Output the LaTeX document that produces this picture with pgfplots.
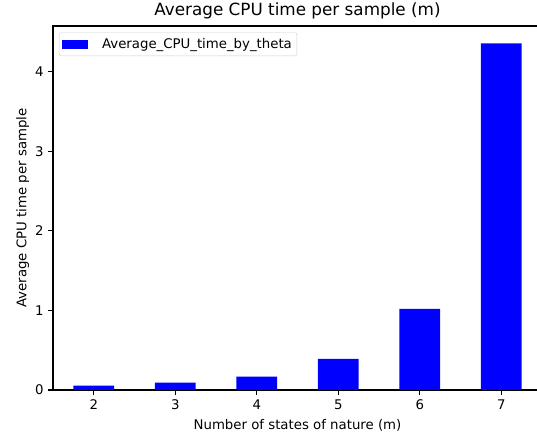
\documentclass[border=0pt]{standalone}
\usepackage{pgfplots}
\pgfplotsset{compat=1.18}
\usepackage{fontspec}
\setmainfont{DejaVu Sans}
\begin{document}
\fontsize{13.3bp}{16bp}\selectfont
\begin{tikzpicture}
  \begin{axis}[
      scale only axis,
      width=489bp,
      height=364bp,
      ybar,
      bar width=0.5,
      xmin=-0.5, xmax=5.5,
      ymin=0, ymax=4.574,
      xtick={0,1,2,3,4,5},
      xticklabels={2,3,4,5,6,7},
      ytick={0,1,2,3,4},
      tick align=outside,
      tick pos=left,
      major tick length=4.7bp,
      tick style={line width=1.05bp, black},
      axis line style={line width=1.05bp},
      /pgf/number format/assume math mode=true,
      ticklabel style={font=\fontsize{13.3bp}{16bp}\selectfont},
      title={Average CPU time per sample (m)},
      title style={font=\fontsize{16.8bp}{19bp}\selectfont, at={(axis description cs:0.5,1.012)}, anchor=base},
      xlabel={Number of states of nature (m)},
      xlabel style={at={(axis description cs:0.5,-0.108)}, anchor=base},
      ylabel={Average CPU time per sample},
      ylabel style={at={(axis description cs:-0.062,0.5)}, anchor=center},
      legend style={at={(0.012,0.982)}, anchor=north west, draw=black!20,
        rounded corners=2bp, font=\fontsize{13.3bp}{16bp}\selectfont,
        inner xsep=3bp, inner ysep=3.5bp,
        nodes={inner xsep=2bp}},
      legend image code/.code={\fill[blue, sharp corners] (0bp,-4.5bp) rectangle (26bp,4.5bp);
        \path (38bp,0bp);},
    ]
    \addplot[fill=blue, draw=none] coordinates {
      (0,0.054) (1,0.092) (2,0.167) (3,0.39) (4,1.02) (5,4.356)
    };
    \addlegendentry{Average\_CPU\_time\_by\_theta}
  \end{axis}
  \pgfresetboundingbox
  \path[use as bounding box] (current axis.south west) ++(-53bp,-49bp) rectangle ++(537bp,439bp);
\end{tikzpicture}
\end{document}
